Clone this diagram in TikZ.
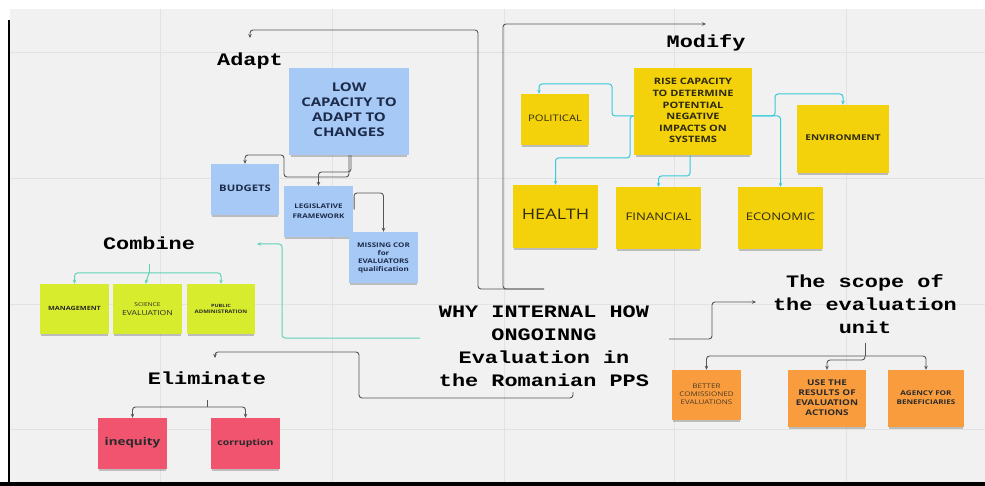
\documentclass[tikz,border=0pt]{standalone}
\usepackage{fontspec}
\usepackage{graphicx}
\newfontfamily\os{Open Sans}
\newfontfamily\mono{Liberation Mono}
\usetikzlibrary{arrows.meta,shadows}
\definecolor{bg}{HTML}{F1F1F1}
\definecolor{gridc}{HTML}{E2E2E2}
\definecolor{nblue}{HTML}{A7C9F6}
\definecolor{nyellow}{HTML}{F3D20C}
\definecolor{nlime}{HTML}{D6EC2C}
\definecolor{npink}{HTML}{F0546F}
\definecolor{norange}{HTML}{F89C3E}
\definecolor{ccyan}{HTML}{38C9DA}
\definecolor{cteal}{HTML}{5ED3B6}
\definecolor{cgray}{HTML}{555555}
\definecolor{navy}{HTML}{1C2B4A}
\definecolor{ytext}{HTML}{2E2A10}
\definecolor{dtext}{HTML}{2A2A2A}
\definecolor{otext}{HTML}{4A3A2A}
\newcommand{\sx}[1]{\scalebox{1.25}[1]{\begin{tabular}{@{}c@{}}#1\end{tabular}}}
\newcommand{\fsz}[2]{\fontsize{#1}{#2}\selectfont}
\tikzset{
 note/.style={rectangle, inner sep=0pt, drop shadow={shadow xshift=0pt,shadow yshift=-3pt,shadow scale=0.97,opacity=.22,fill=black}},
 bnote/.style={note, fill=nblue, text=navy},
 ynote/.style={note, fill=nyellow, text=ytext},
 lnote/.style={note, fill=nlime, text=dtext},
 pnote/.style={note, fill=npink, text=dtext},
 onote/.style={note, fill=norange, text=dtext},
 sz/.style 2 args={minimum width=#1pt, minimum height=#2pt},
 ttl/.style={inner sep=0pt, text=black, font={\mono\bfseries\fsz{17.5}{23}}},
 gline/.style={draw=cgray, line width=0.9pt, rounded corners=3pt},
 cline/.style={draw=ccyan, line width=1pt, rounded corners=3pt},
 tline/.style={draw=cteal, line width=1pt, rounded corners=3pt},
 arr/.style={-{Stealth[length=4pt,width=3.5pt]}},
}
\begin{document}
\begin{tikzpicture}[x=1pt,y=-1pt]
\useasboundingbox (0,0) rectangle (985,486);
\fill[white] (0,0) rectangle (985,486);
\fill[bg] (10,9) rectangle (985,482);
\foreach \gx in {160,332,504,674,846} \draw[gridc,line width=1pt] (\gx,9) -- (\gx,482);
\foreach \gy in {53,179,305,429} \draw[gridc,line width=1pt] (10,\gy) -- (985,\gy);
\fill[black] (0,482) rectangle (985,486);
\draw[black,line width=1.5pt] (9,20) -- (9,482);

% titles
\node[ttl] (adapt) at (250,61) {\sx{Adapt}};
\node[ttl] (modify) at (706,43) {\sx{Modify}};
\node[ttl] (combine) at (149,245) {\sx{Combine}};
\node[ttl] (eliminate) at (207,380) {\sx{Eliminate}};
\node[ttl] (why) at (544,347) {\sx{WHY INTERNAL HOW\\ONGOINNG\\Evaluation in\\the Romanian PPS}};
\node[ttl] (scope) at (865,306) {\sx{The scope of\\the evaluation\\unit}};

% blue notes
\node[bnote, sz={120}{87}, font={\os\bfseries\fsz{12}{15}}] (low) at (349,111.5) {\sx{LOW\\CAPACITY TO\\ADAPT TO\\CHANGES}};
\node[bnote, sz={68}{51}, font={\os\bfseries\fsz{9}{11}}] (budgets) at (245,189.5) {\sx{BUDGETS}};
\node[bnote, sz={69}{51}, font={\os\bfseries\fsz{6.4}{9.5}}] (legis) at (318.5,211.5) {\sx{LEGISLATIVE\\FRAMEWORK}};
\node[bnote, sz={69}{51}, font={\os\bfseries\fsz{6.4}{8}}] (missing) at (383.5,257.5) {\sx{MISSING COR\\for\\EVALUATORS\\qualification}};

% yellow notes
\node[ynote, sz={118}{87}, font={\os\bfseries\fsz{8.8}{11.6}}] (rise) at (693,111.5) {\sx{RISE CAPACITY\\TO DETERMINE\\POTENTIAL\\NEGATIVE\\IMPACTS ON\\SYSTEMS}};
\node[ynote, sz={68}{51}, font={\os\fsz{9}{11}}] (political) at (555,119.5) {\sx{POLITICAL}};
\node[ynote, sz={92}{68}, font={\os\bfseries\fsz{8}{10}}] (environment) at (843,139) {\sx{ENVIRONMENT}};
\node[ynote, sz={85}{63}, font={\os\fsz{14.5}{16}}] (health) at (555.5,216.5) {\sx{HEALTH}};
\node[ynote, sz={85}{62}, font={\os\fsz{10.5}{12}}] (financial) at (658.5,218) {\sx{FINANCIAL}};
\node[ynote, sz={85}{62}, font={\os\fsz{10.5}{12}}] (economic) at (780.5,218) {\sx{ECONOMIC}};

% lime notes
\node[lnote, sz={69}{50}, font={\os\bfseries\fsz{5.8}{7}}] (management) at (74.5,309) {\sx{MANAGEMENT}};
\node[lnote, sz={69}{50}, font={\os\fsz{6.9}{9}}] (science) at (147.5,309) {\sx{{\fsz{5.3}{8}SCIENCE}\\EVALUATION}};
\node[lnote, sz={68}{50}, font={\os\bfseries\fsz{4.8}{6}}] (public) at (221,309) {\sx{{\fsz{4.4}{6}PUBLIC}\\ADMINISTRATION}};

% pink notes
\node[pnote, sz={69}{51}, font={\os\bfseries\fsz{10.7}{12}}] (inequity) at (132.5,443.5) {\sx{inequity}};
\node[pnote, sz={69}{51}, font={\os\bfseries\fsz{8.4}{10}}] (corruption) at (245.5,443.5) {\sx{corruption}};

% orange notes
\node[onote, sz={69}{50}, text=otext, font={\os\fsz{6.4}{8}}] (better) at (706.5,395) {\sx{BETTER\\COMISSIONED\\EVALUATIONS}};
\node[onote, sz={78}{57}, font={\os\bfseries\fsz{7.9}{10}}] (useres) at (827,398.5) {\sx{USE THE\\RESULTS OF\\EVALUATION\\ACTIONS}};
\node[onote, sz={76}{57}, font={\os\bfseries\fsz{6.5}{8.5}}] (agency) at (926,398.5) {\sx{AGENCY FOR\\BENEFICIARIES}};

% free ends
\coordinate (whyA) at (544,289);
\coordinate (adaptIn) at (250,38);
\coordinate (modifyIn) at (706,24);
\coordinate (whyC) at (420,338);
\coordinate (combineIn) at (257,244);
\coordinate (whyE) at (573,392);
\coordinate (elimIn) at (215,358);
\coordinate (whyS) at (669,339);
\coordinate (scopeIn) at (756,302);
\coordinate (combOut) at (149,264);
\coordinate (combSplit) at (149,273);
\coordinate (elimOut) at (207,400);
\coordinate (elimSplit) at (207,407);
\coordinate (scopeOut) at (865,343);
\coordinate (scopeSplit) at (865,356);

% WHY connectors
\draw[gline,arr] (whyA) -- (478,289) -- (478,30) -- (250,30) -- (adaptIn);
\draw[gline,arr] (whyA) -- (503,289) -- (503,24) -- (modifyIn);
\draw[tline,arr] (whyC) -- (282,338) -- (282,244) -- (combineIn);
\draw[gline,arr] (whyE) -- (573,398) -- (359,398) -- (359,352) -- (215,352) -- (elimIn);
\draw[gline,arr] (whyS) -- (712,339) -- (712,302) -- (scopeIn);

% Adapt connectors
\draw[gline,arr] (low.south) -- (349,177) -- (284,177) -- (284,155) -- (245,155) -- (budgets.north);
\draw[gline,arr] ([xshift=2pt]low.south) -- (351,172) -- (318.5,172) -- (legis.north);
\draw[gline,arr] ([xshift=1pt,yshift=2pt]legis.east) -- (354,193) -- (383.5,193) -- (missing.north);

% Modify connectors
\draw[cline,arr] ([yshift=-4.5pt]rise.west) -- (612,116) -- (612,84) -- (539,84) -- ([xshift=-16pt]political.north);
\draw[cline,arr] ([yshift=-4.5pt]rise.west) -- (630,116) -- (630,158) -- (555.5,158) -- (health.north);
\draw[cline,arr] ([xshift=-3pt]rise.south) -- (690,176) -- (658.5,176) -- (financial.north);
\draw[cline,arr] ([yshift=-4.5pt]rise.east) -- (780.5,116) -- (economic.north);
\draw[cline,arr] ([yshift=-4.5pt]rise.east) -- (775,116) -- (775,94) -- (843,94) -- (environment.north);

% Combine connectors
\draw[tline] (combOut) -- (combSplit);
\draw[tline,arr] (combSplit) -| (management.north);
\draw[tline,arr] (combSplit) -- ([xshift=-2pt]science.north);
\draw[tline,arr] (combSplit) -| (public.north);

% Eliminate connectors
\draw[gline] (elimOut) -- (elimSplit);
\draw[gline,arr] (elimSplit) -| (inequity.north);
\draw[gline,arr] (elimSplit) -| (corruption.north);

% Scope connectors
\draw[gline] (scopeOut) -- (scopeSplit);
\draw[gline,arr] (scopeSplit) -| (better.north);
\draw[gline,arr] (scopeSplit) -- (865,360) -- (827,360) -- (useres.north);
\draw[gline,arr] (scopeSplit) -| (agency.north);
\end{tikzpicture}
\end{document}
